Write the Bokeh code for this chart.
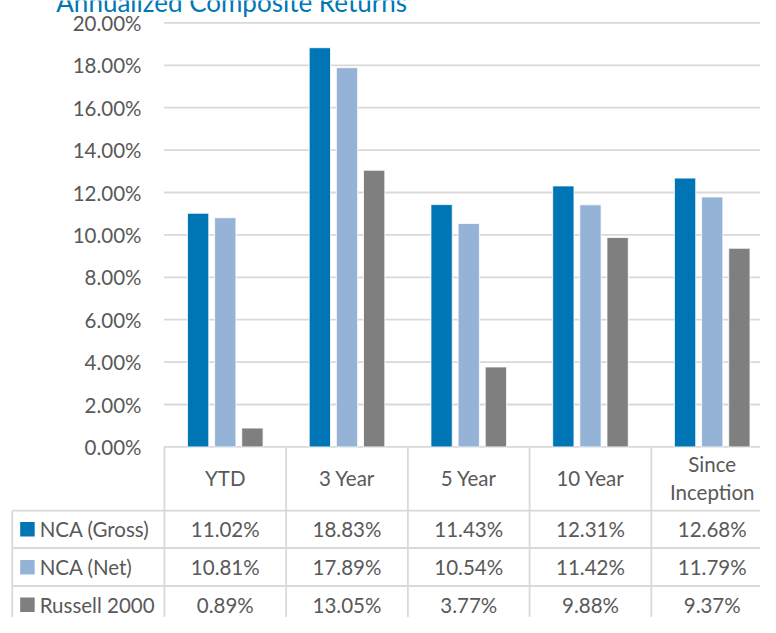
from bokeh.plotting import figure
from bokeh.models import Range1d
from bokeh.core.properties import value
from bokeh.embed import file_html
from bokeh.resources import INLINE

# ---------------- data ----------------
title = "Annualized Composite Returns"
categories = ["YTD", "3 Year", "5 Year", "10 Year", "Since Inception"]
category_lines = [["YTD"], ["3 Year"], ["5 Year"], ["10 Year"], ["Since", "Inception"]]
series_names = ["NCA (Gross)", "NCA (Net)", "Russell 2000"]
nca_gross = [11.02, 18.83, 11.43, 12.31, 12.68]
nca_net = [10.81, 17.89, 10.54, 11.42, 11.79]
russell_2000 = [0.89, 13.05, 3.77, 9.88, 9.37]
y_ticks = [0, 2, 4, 6, 8, 10, 12, 14, 16, 18, 20]
y_tick_labels = ["0.00%", "2.00%", "4.00%", "6.00%", "8.00%", "10.00%",
                 "12.00%", "14.00%", "16.00%", "18.00%", "20.00%"]

series = [nca_gross, nca_net, russell_2000]
colors = ["#0075B6", "#95B3D7", "#7F7F7F"]

# ---------------- layout (reference pixel space 776 x 633, scaled to fit) ----------------
W, H = 760, 617
REF_W, REF_H = 776, 633
PX_PER_CAT = 124.3
CAT0_CENTER = 229.5
ZERO_Y = 458.0
PX_PER_PCT = 21.75


def dx(ref_x):
    return (ref_x - CAT0_CENTER) / PX_PER_CAT


def dy(ref_y):
    return (ZERO_Y - ref_y) / PX_PER_PCT


FONT = "Lato"
TXT = "#595959"
GRID = "#D9D9D9"
FS = "20.5px"

p = figure(width=W, height=H, output_backend="svg", toolbar_location=None,
           x_range=Range1d(dx(0), dx(REF_W)),
           y_range=Range1d(dy(REF_H), dy(0)),
           x_axis_location=None, y_axis_location=None,
           min_border=0, min_border_left=0, min_border_right=0,
           min_border_top=0, min_border_bottom=0)
p.grid.visible = False
p.outline_line_color = None
p.background_fill_color = "white"
p.border_fill_color = "white"

n = len(categories)
x_right = dx(REF_W) + 1

# gridlines
p.segment(x0=[dx(167)] * len(y_ticks), x1=[x_right] * len(y_ticks),
          y0=y_ticks, y1=y_ticks, line_color=GRID, line_width=1.8)

# y tick labels
p.text(x=[dx(144)] * len(y_ticks), y=y_ticks, text=y_tick_labels,
       text_align="right", text_baseline="middle", text_color=TXT,
       text_font=value(FONT), text_font_size=FS)

# bars
offsets = [-0.223, 0.0, 0.223]
for vals, off, col in zip(series, offsets, colors):
    p.vbar(x=[i + off for i in range(n)], top=vals, bottom=0, width=0.175,
           fill_color=col, line_color="white", line_width=0.8)

# ---------------- data table ----------------
row_lines = [523.3, 561.7, 600.7]
row_centers = [542.5, 581.5, 620.0]
bottom = dy(660)

# horizontal table lines
p.segment(x0=[dx(12)] * len(row_lines), x1=[x_right] * len(row_lines),
          y0=[dy(r) for r in row_lines], y1=[dy(r) for r in row_lines],
          line_color=GRID, line_width=1.8)
# vertical column lines
vx = [i - 0.5 for i in range(n + 1)]
p.segment(x0=vx, x1=vx, y0=[0] * len(vx), y1=[bottom] * len(vx),
          line_color=GRID, line_width=1.8)
p.segment(x0=[dx(12)], x1=[dx(12)], y0=[dy(row_lines[0])], y1=[bottom],
          line_color=GRID, line_width=1.8)

# category header
hx, hy, ht = [], [], []
for i, lines in enumerate(category_lines):
    if len(lines) == 1:
        hx.append(i); hy.append(dy(490)); ht.append(lines[0])
    else:
        for ln, ry in zip(lines, [475.5, 504.5]):
            hx.append(i); hy.append(dy(ry)); ht.append(ln)
p.text(x=hx, y=hy, text=ht, text_align="center", text_baseline="middle",
       text_color=TXT, text_font=value(FONT), text_font_size=FS)

# legend keys + names
p.scatter(x=[dx(27.5)] * 3, y=[dy(r) for r in row_centers], marker="square",
          size=14.5, fill_color=colors, line_color=None)
p.text(x=[dx(40)] * 3, y=[dy(r) for r in row_centers], text=series_names,
       text_align="left", text_baseline="middle", text_color=TXT,
       text_font=value(FONT), text_font_size=FS)

# values
for vals, rc in zip(series, row_centers):
    p.text(x=list(range(n)), y=[dy(rc)] * n, text=[f"{v:.2f}%" for v in vals],
           text_align="center", text_baseline="middle", text_color=TXT,
           text_font=value(FONT), text_font_size=FS)

# title (cut off at the top, as in the source)
p.text(x=[dx(57)], y=[dy(1.5)], text=[title], text_align="left",
       text_baseline="alphabetic", text_color="#0077B6",
       text_font=value(FONT), text_font_size="26px")

open("out.html", "w").write(file_html(p, INLINE))
